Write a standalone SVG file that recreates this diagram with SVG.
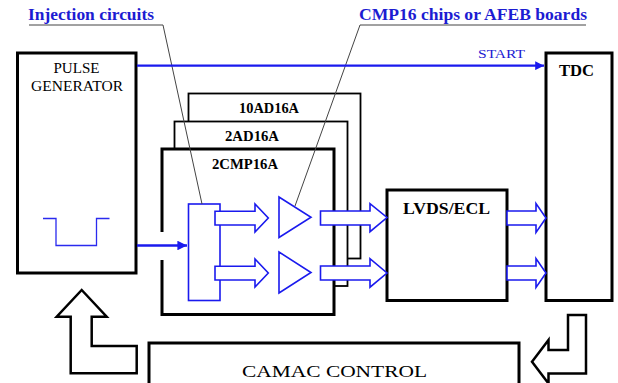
<svg xmlns="http://www.w3.org/2000/svg" width="618" height="383" viewBox="0 0 618 383">
<defs>
<style>
.box{fill:#fff;stroke:#000;stroke-width:3}
.thin{fill:#fff;stroke:#000;stroke-width:1.8}
text{font-family:"Liberation Serif","Times New Roman","DejaVu Serif",serif;fill:#000}
.b{font-weight:bold}
.blue{fill:#1c1cd2}
.bl{fill:none;stroke:#1a1aee;stroke-width:1.6}
.barrow{fill:#fff;stroke:#1a1aee;stroke-width:1.6}
.leader{fill:none;stroke:#444;stroke-width:1}
.hollow{fill:#fff;stroke:#000;stroke-width:2.5;stroke-linejoin:miter}
</style>
<marker id="ah" viewBox="0 0 10 10" refX="10" refY="5" markerWidth="4" markerHeight="4" orient="auto" markerUnits="strokeWidth">
<path d="M0,0 L10,5 L0,10 z" fill="#1a1aee"/>
</marker>
</defs>
<rect width="618" height="383" fill="#fff"/>

<g id="pulse-generator">
<rect class="box" x="17.5" y="53" width="118.5" height="220"/>
<text x="53.5" y="73" font-size="14" textLength="46" lengthAdjust="spacingAndGlyphs">PULSE</text>
<text x="31" y="90.5" font-size="14" textLength="92" lengthAdjust="spacingAndGlyphs">GENERATOR</text>
<polyline fill="none" stroke="#2a2aee" stroke-width="1.3" points="43,218.5 56,218.5 56,245.5 96.5,245.5 96.5,218.5 109.5,218.5"/>
</g>

<g id="tdc">
<rect class="box" x="546" y="53" width="66" height="247.5"/>
<text class="b" x="559" y="76" font-size="16" textLength="35" lengthAdjust="spacingAndGlyphs">TDC</text>
</g>

<g id="board-10AD16A">
<rect class="thin" x="188.5" y="93.5" width="172" height="165"/>
<text class="b" x="239" y="112.5" font-size="14" textLength="60" lengthAdjust="spacingAndGlyphs">10AD16A</text>
</g>
<g id="board-2AD16A">
<rect class="thin" x="174.5" y="121.5" width="173" height="164.5"/>
<text class="b" x="225" y="140.5" font-size="14" textLength="54" lengthAdjust="spacingAndGlyphs">2AD16A</text>
</g>
<g id="board-2CMP16A">
<rect x="162" y="149" width="172" height="165.5" fill="#fff" stroke="none"/>
<path d="M162,232 L162,149 L334,149 L334,314.5 L162,314.5 L162,260" fill="none" stroke="#000" stroke-width="3"/>
<text class="b" x="212" y="168.5" font-size="14" textLength="66" lengthAdjust="spacingAndGlyphs">2CMP16A</text>
</g>

<g id="injection-circuit">
<rect class="bl" x="188.5" y="204" width="31.5" height="96.5" fill="#fff"/>
</g>

<g id="amplifier-1">
<polygon class="bl" points="279,197 279,237.5 311,217.3"/>
</g>
<g id="amplifier-2">
<polygon class="bl" points="279,252 279,293 311,272.5"/>
</g>

<g id="lvds-ecl">
<rect class="box" x="387" y="190" width="120" height="110.5"/>
<text class="b" x="403" y="214" font-size="16.5" textLength="87" lengthAdjust="spacingAndGlyphs">LVDS/ECL</text>
</g>

<g id="camac-control">
<rect class="box" x="149" y="343" width="370" height="50" stroke-width="2.5"/>
<text x="242" y="377" font-size="17.5" textLength="185" lengthAdjust="spacingAndGlyphs">CAMAC CONTROL</text>
</g>

<g id="callouts">
<text class="b blue" x="28" y="20" font-size="16.5" textLength="126" lengthAdjust="spacingAndGlyphs">Injection circuits</text>
<polyline class="leader" points="29,25 163,25 202,204"/>
<text class="b blue" x="359" y="20" font-size="16.5" textLength="228" lengthAdjust="spacingAndGlyphs">CMP16 chips or AFEB boards</text>
<polyline class="leader" points="586,25 360,25 295,206"/>
</g>

<g id="connectors">
<line x1="137" y1="65.7" x2="544" y2="65.7" stroke="#1a1aee" stroke-width="2.2" marker-end="url(#ah)"/>
<text class="blue" x="478" y="58" font-size="12.5" textLength="47" lengthAdjust="spacingAndGlyphs">START</text>
<line x1="137" y1="245.5" x2="187" y2="245.5" stroke="#1a1aee" stroke-width="2.4" marker-end="url(#ah)"/>
<polygon class="barrow" points="215,211.3 255,211.3 255,204 268.3,218 255,232 255,225 215,225"/>
<polygon class="barrow" points="215,266.3 255,266.3 255,259 268.3,273 255,287 255,280 215,280"/>
<polygon class="barrow" points="320.5,211 370,211 370,203.7 387,217.5 370,231.7 370,225 320.5,225"/>
<polygon class="barrow" points="320.5,266 370,266 370,258.7 387,273 370,287.2 370,280 320.5,280"/>
<polygon class="barrow" points="507,211 536,211 536,203.5 546,218 536,232.5 536,225 507,225"/>
<polygon class="barrow" points="507,266 536,266 536,258.5 546,273 536,287.5 536,280 507,280"/>
<polygon class="hollow" points="81.7,290 106.7,316.7 91.7,316.7 91.7,346 136.7,346 136.7,373.3 70.7,373.3 70.7,316.7 56.7,316.7"/>
<polygon class="hollow" points="532,361.7 548.5,340 548.5,350 568,350 568,315 586,315 586,373.4 548.5,373.4 548.5,383.5"/>
</g>
</svg>
